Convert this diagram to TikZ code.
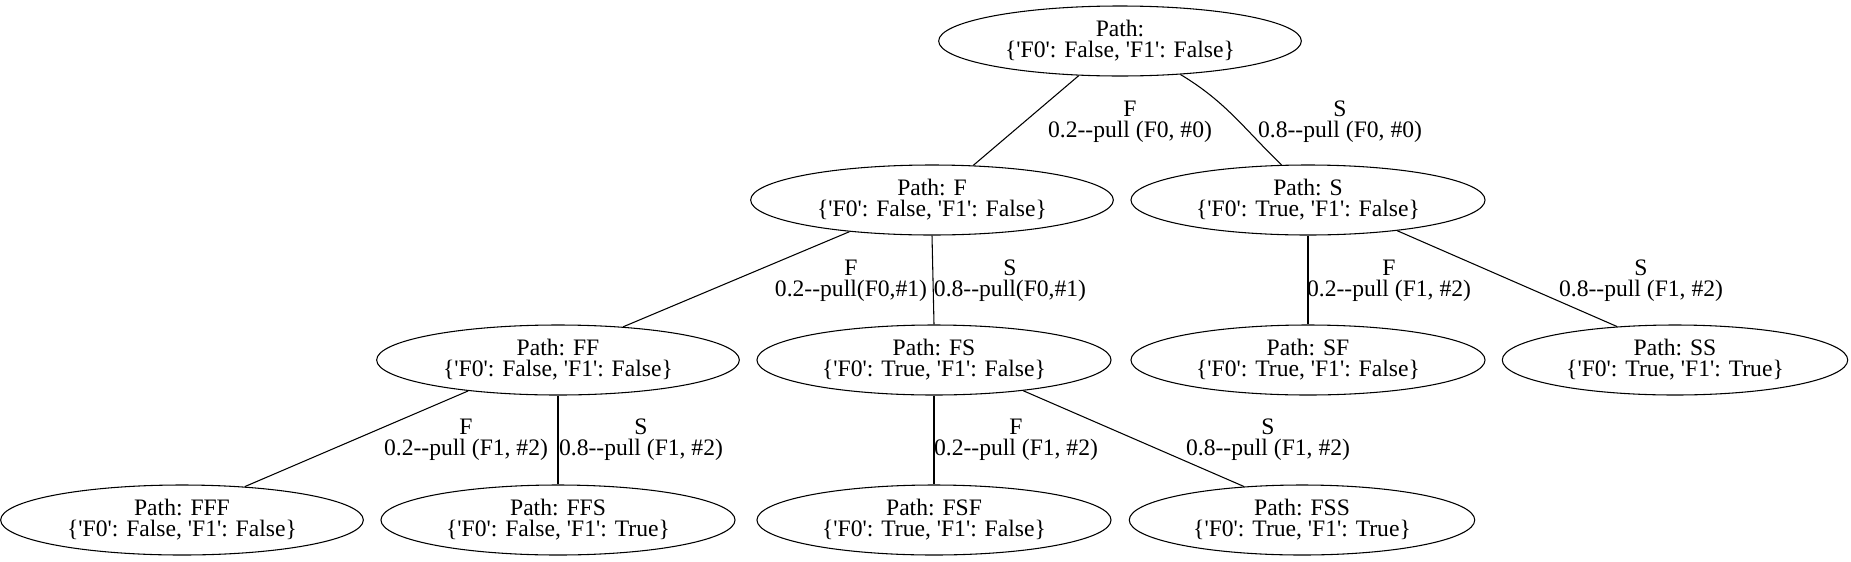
\documentclass[tikz,border=0pt]{standalone}
\usepackage{fontspec}
\usepackage{tikz}
\usetikzlibrary{shapes.geometric}
\newfontfamily\gvfont{Liberation Serif}
\tikzset{
  state/.style={ellipse,draw,line width=.8pt,inner xsep=10pt,inner ysep=0pt,minimum height=52.5pt,align=center,font=\gvfont\fontsize{17.7pt}{15.8pt}\selectfont},
  elabel/.style={align=center,inner sep=0pt,font=\gvfont\fontsize{17.7pt}{16pt}\selectfont},
  link/.style={line width=.8pt}
}

\begin{document}
\begin{tikzpicture}[x=.75pt,y=-.75pt]
\path[use as bounding box] (0,0) rectangle (1851,561);
\node[state] (root) at (1120,41) {Path:\\\{'F0': False, 'F1': False\}};
\node[state] (F) at (932,200) {Path: F\\\{'F0': False, 'F1': False\}};
\node[state] (S) at (1308,200) {Path: S\\\{'F0': True, 'F1': False\}};
\node[state] (FF) at (558,360) {Path: FF\\\{'F0': False, 'F1': False\}};
\node[state] (FS) at (934,360) {Path: FS\\\{'F0': True, 'F1': False\}};
\node[state] (SF) at (1308,360) {Path: SF\\\{'F0': True, 'F1': False\}};
\node[state] (SS) at (1675,360) {Path: SS\\\{'F0': True, 'F1': True\}};
\node[state] (FFF) at (182,520) {Path: FFF\\\{'F0': False, 'F1': False\}};
\node[state] (FFS) at (558,520) {Path: FFS\\\{'F0': False, 'F1': True\}};
\node[state] (FSF) at (934,520) {Path: FSF\\\{'F0': True, 'F1': False\}};
\node[state] (FSS) at (1302,520) {Path: FSS\\\{'F0': True, 'F1': True\}};
\draw[link] (root.-140) -- (F.40);
\draw[link] (root.-29) to[out=-31,in=136] (S.127);
\draw[link] (F.-159) -- (FF.27);
\draw[link] (F.south) -- (FS.north);
\draw[link] (S.south) -- (SF.north);
\draw[link] (S.-19) -- (SS.150);
\draw[link] (FF.-161) -- (FFF.28);
\draw[link] (FF.south) -- (FFS.north);
\draw[link] (FS.south) -- (FSF.north);
\draw[link] (FS.-19) -- (FSS.150);
\node[elabel] (lF) at (1130,122) {F\\0.2--pull (F0, \#0)};
\node[elabel] (lS) at (1340,122) {S\\0.8--pull (F0, \#0)};
\node[elabel] (lFF) at (851,281) {F\\0.2--pull(F0,\#1)};
\node[elabel] (lFS) at (1010,281) {S\\0.8--pull(F0,\#1)};
\node[elabel] (lSF) at (1389,281) {F\\0.2--pull (F1, \#2)};
\node[elabel] (lSS) at (1641,281) {S\\0.8--pull (F1, \#2)};
\node[elabel] (lFFF) at (466,440) {F\\0.2--pull (F1, \#2)};
\node[elabel] (lFFS) at (641,440) {S\\0.8--pull (F1, \#2)};
\node[elabel] (lFSF) at (1016,440) {F\\0.2--pull (F1, \#2)};
\node[elabel] (lFSS) at (1268,440) {S\\0.8--pull (F1, \#2)};
\end{tikzpicture}
\end{document}
